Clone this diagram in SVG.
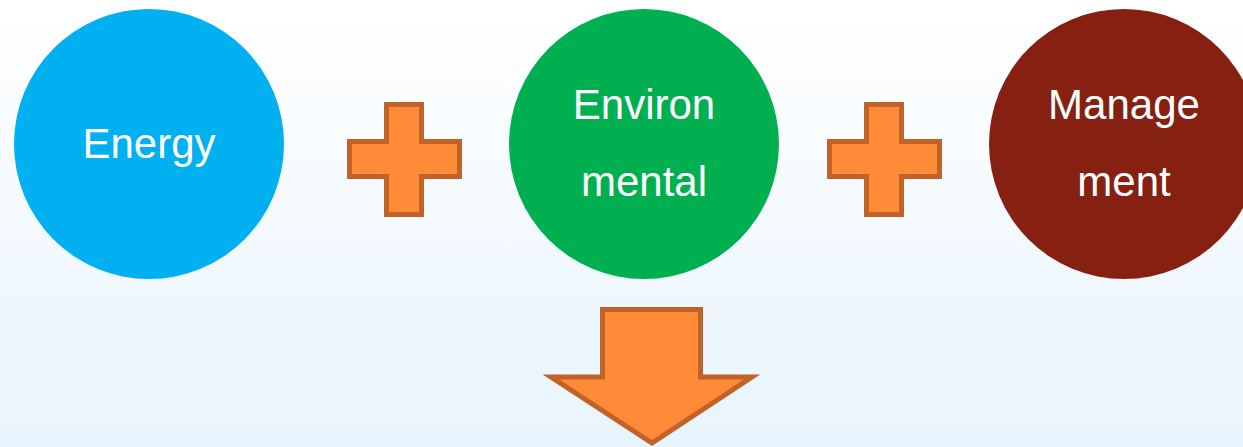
<svg xmlns="http://www.w3.org/2000/svg" width="1243" height="447" viewBox="0 0 1243 447">
<defs>
<linearGradient id="bg" x1="0" y1="0" x2="0" y2="1">
<stop offset="0" stop-color="#FFFFFF"/>
<stop offset="1" stop-color="#E8F4FD"/>
</linearGradient>
</defs>
<style>
.lbl{font-family:"Liberation Sans",Arial,sans-serif;font-size:42px;fill:#FFFFFF;text-anchor:middle}
.op{fill:#FF8A38;stroke:#BF6328;stroke-width:5;stroke-linejoin:miter}
</style>
<rect x="0" y="0" width="1243" height="447" fill="url(#bg)"/>
<g id="energy">
<circle cx="149" cy="144" r="135" fill="#00B0F0"/>
<text class="lbl" x="149" y="158">Energy</text>
</g>
<g id="plus1">
<path class="op" d="M386.5,104.5H421.5V141.5H459.5V176.5H421.5V214.5H386.5V176.5H349.5V141.5H386.5Z"/>
</g>
<g id="environmental">
<circle cx="644" cy="144" r="135" fill="#00B050"/>
<text class="lbl" x="644" y="119">Environ</text>
<text class="lbl" x="644" y="196">mental</text>
</g>
<g id="plus2">
<path class="op" d="M866.5,104.5H901.5V141.5H939.5V176.5H901.5V214.5H866.5V176.5H829.5V141.5H866.5Z"/>
</g>
<g id="management">
<circle cx="1124" cy="144" r="135" fill="#862011"/>
<text class="lbl" x="1124" y="119">Manage</text>
<text class="lbl" x="1124" y="196">ment</text>
</g>
<g id="connectors">
<path class="op" d="M602.5,309.5H700.5V377H752L652,443L551,377H602.5Z"/>
</g>
</svg>
